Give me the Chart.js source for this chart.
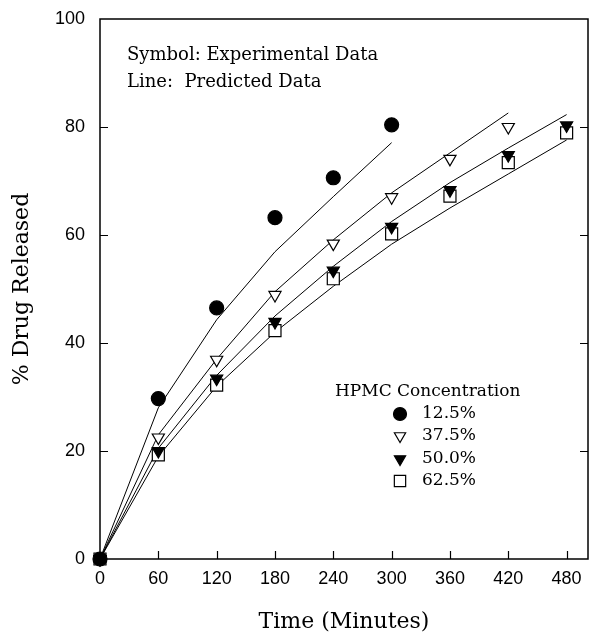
<!DOCTYPE html>
<html><head><meta charset="utf-8">
<style>html,body{margin:0;padding:0;background:#fff;}#wrap{width:590px;height:633px;position:relative}</style>
<script src="https://cdn.jsdelivr.net/npm/chart.js@4.4.0/dist/chart.umd.min.js"></script>
</head><body><div id="wrap"><canvas id="c" width="590" height="633"></canvas></div>
<script>
// ---- data ----
const times = [0, 60, 120, 180, 240, 300, 360, 420, 480];
const xTicks = [0, 60, 120, 180, 240, 300, 360, 420, 480];
const yTicks = [0, 20, 40, 60, 80, 100];
const seriesNames = ['12.5%', '37.5%', '50.0%', '62.5%'];
// experimental (symbols)
const exp125 = [0, 29.7, 46.5, 63.2, 70.6, 80.4];
const exp375 = [0, 22.5, 36.9, 48.9, 58.4, 67.0, 74.1, 80.0];
const exp500 = [0, 20.0, 33.4, 43.9, 53.4, 61.5, 68.3, 74.8, 80.3];
const exp625 = [0, 19.3, 32.2, 42.3, 51.9, 60.2, 67.2, 73.4, 78.9];
// predicted (lines)
const pred125 = [0, 28.0, 44.3, 56.9, 67.1, 77.1];
const pred375 = [0, 23.0, 37.0, 49.5, 59.1, 67.8, 75.2, 82.6];
const pred500 = [0, 20.5, 34.0, 45.0, 54.2, 62.5, 69.7, 76.1, 82.3];
const pred625 = [0, 19.0, 32.0, 42.0, 50.5, 58.3, 65.0, 71.3, 77.6];
const noteLines = ['Symbol: Experimental Data', 'Line:  Predicted Data'];
const legendTitle = 'HPMC Concentration';
const xTitle = 'Time (Minutes)';
const yTitle = '% Drug Released';

function pts(vals) { return vals.map((v, i) => ({ x: times[i], y: v })); }

const SERIF = '"DejaVu Serif", serif';
const SANS = '"Liberation Sans", Arial, sans-serif';
const markers = [
  { style: 'circle', radius: 7, rotation: 0, fill: '#000' },
  { style: 'triangle', radius: 7, rotation: 180, fill: '#fff' },
  { style: 'triangle', radius: 7, rotation: 180, fill: '#000' },
  { style: 'rect', radius: 8.5, rotation: 0, fill: '#fff' }
];

const lineSets = [pred125, pred375, pred500, pred625].map((p, i) => ({
  label: 'Predicted ' + seriesNames[i], data: pts(p), showLine: true,
  borderColor: '#000', borderWidth: 1, pointRadius: 0, pointHoverRadius: 0,
  tension: 0, fill: false, clip: false, order: 2
}));
const symSets = [exp125, exp375, exp500, exp625].map((e, i) => ({
  label: 'Experimental ' + seriesNames[i], data: pts(e), showLine: false,
  pointStyle: markers[i].style, pointRadius: markers[i].radius,
  pointRotation: markers[i].rotation, pointBackgroundColor: markers[i].fill,
  pointBorderColor: '#000', pointBorderWidth: 1.2, clip: false, order: 1
}));

function drawMarker(ctx, m, x, y) {
  ctx.save();
  ctx.lineWidth = 1.2; ctx.strokeStyle = '#000'; ctx.fillStyle = m.fill;
  ctx.beginPath();
  if (m.style === 'circle') {
    ctx.arc(x, y, m.radius, 0, Math.PI * 2);
  } else if (m.style === 'triangle') {
    let rad = m.rotation * Math.PI / 180;
    ctx.moveTo(x + Math.sin(rad) * m.radius, y - Math.cos(rad) * m.radius);
    rad += 2 * Math.PI / 3;
    ctx.lineTo(x + Math.sin(rad) * m.radius, y - Math.cos(rad) * m.radius);
    rad += 2 * Math.PI / 3;
    ctx.lineTo(x + Math.sin(rad) * m.radius, y - Math.cos(rad) * m.radius);
    ctx.closePath();
  } else {
    const s = m.radius * Math.SQRT1_2;
    ctx.rect(x - s, y - s, 2 * s, 2 * s);
  }
  ctx.fill(); ctx.stroke();
  ctx.restore();
}

const decor = {
  id: 'decor',
  beforeDatasetsDraw(chart) {
    const { ctx, chartArea: a, scales: { x, y } } = chart;
    ctx.save();
    ctx.strokeStyle = '#000';
    ctx.lineWidth = 1.5;
    ctx.strokeRect(a.left, a.top, a.right - a.left, a.bottom - a.top);
    ctx.lineWidth = 1.2;
    ctx.beginPath();
    yTicks.forEach(v => {
      if (v === 0 || v === 100) return;
      const py = Math.round(y.getPixelForValue(v)) + 0.5;
      ctx.moveTo(a.left, py); ctx.lineTo(a.left + 8, py);
      ctx.moveTo(a.right, py); ctx.lineTo(a.right - 8, py);
    });
    xTicks.forEach(v => {
      if (v === 0) return;
      const px = Math.round(x.getPixelForValue(v)) + 0.5;
      ctx.moveTo(px, a.bottom); ctx.lineTo(px, a.bottom - 8);
    });
    ctx.stroke();
    ctx.restore();
  },
  afterDraw(chart) {
    const { ctx } = chart;
    ctx.save();
    ctx.fillStyle = '#000';
    ctx.textBaseline = 'middle';
    ctx.textAlign = 'left';
    ctx.font = '18px ' + SERIF;
    ctx.fillText(noteLines[0], 127, 55);
    ctx.fillText(noteLines[1], 127, 82);
    ctx.font = '17px ' + SERIF;
    ctx.fillText(legendTitle, 335, 392);
    const rowsY = [414, 436, 459, 481];
    seriesNames.forEach((n, i) => {
      drawMarker(ctx, { ...markers[i], radius: markers[i].radius - 0.5 }, 400, rowsY[i]);
      ctx.fillText(n, 422, rowsY[i]);
    });
    ctx.restore();
  }
};

new Chart(document.getElementById('c'), {
  type: 'scatter',
  data: { datasets: [...lineSets, ...symSets] },
  options: {
    responsive: false, devicePixelRatio: 1, animation: false,
    layout: { autoPadding: false, padding: { top: 19, right: 2, left: 0, bottom: 0 } },
    plugins: { legend: { display: false }, tooltip: { enabled: false } },
    scales: {
      x: {
        type: 'linear', min: 0, max: 502,
        afterBuildTicks: s => { s.ticks = xTicks.map(v => ({ value: v })); },
        afterFit: s => { s.height = 74; s.paddingLeft = 0; s.paddingRight = 0; },
        grid: { display: false, drawTicks: false }, border: { display: false },
        ticks: { padding: 9, color: '#000', font: { family: SANS, size: 18 }, maxRotation: 0, autoSkip: false },
        title: { display: true, text: xTitle, color: '#000', font: { family: SERIF, size: 22, lineHeight: 1 }, padding: { top: 0, bottom: 0 } }
      },
      y: {
        type: 'linear', min: 0, max: 100,
        afterBuildTicks: s => { s.ticks = yTicks.map(v => ({ value: v })); },
        afterFit: s => { s.width = 100; s.paddingTop = 0; s.paddingBottom = 0; },
        grid: { display: false, drawTicks: false }, border: { display: false },
        ticks: { padding: 15, color: '#000', font: { family: SANS, size: 18 } },
        title: { display: true, text: yTitle, color: '#000', font: { family: SERIF, size: 22, lineHeight: 1.2 }, padding: { top: 9, bottom: 0 } }
      }
    }
  },
  plugins: [decor]
});
</script></body></html>
